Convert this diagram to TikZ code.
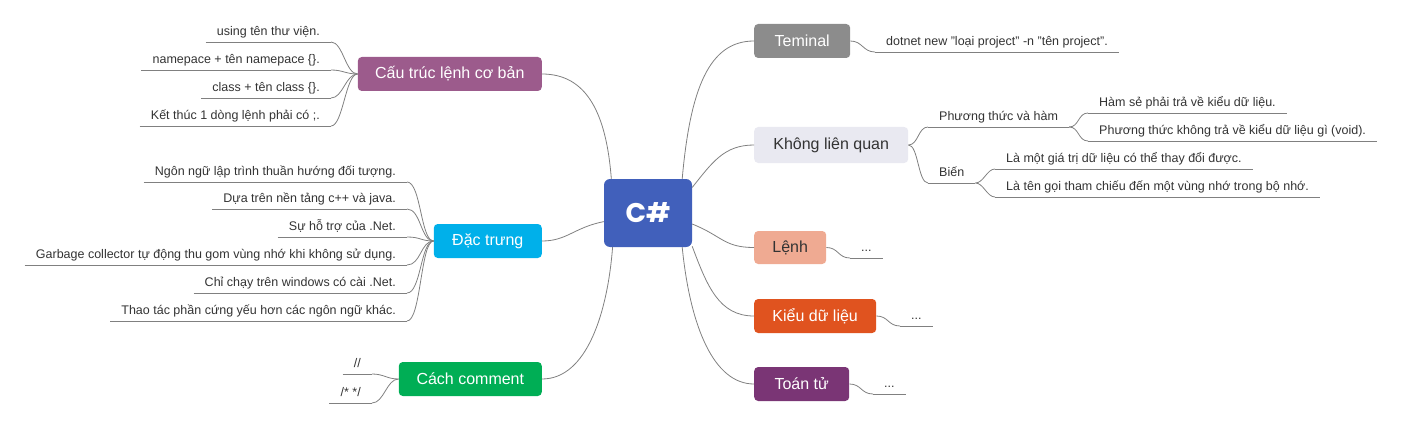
\documentclass[tikz,border=0pt]{standalone}
\usepackage{fontspec}
\setmainfont{Liberation Sans}
\newfontfamily\poppins{Poppins}
\definecolor{csblue}{HTML}{4160BB}
\definecolor{cauc}{HTML}{9C5B8C}
\definecolor{dacc}{HTML}{00B0EA}
\definecolor{cachc}{HTML}{00AE55}
\definecolor{temc}{HTML}{8C8C8C}
\definecolor{klqc}{HTML}{E9E9F1}
\definecolor{lenhc}{HTML}{EFAA92}
\definecolor{kieuc}{HTML}{E0531F}
\definecolor{toanc}{HTML}{7A3575}
\definecolor{linegray}{HTML}{808080}
\definecolor{leaftext}{HTML}{333333}
\begin{document}
\begin{tikzpicture}[x=1pt,y=-1pt,
  box/.style={rounded corners=4pt, minimum height=34pt, inner sep=0pt,
    font=\fontsize{16}{19}\selectfont, text=white},
  leaf/.style={inner xsep=11pt, inner ysep=0pt, text height=9pt, text depth=6pt,
    font=\fontsize{12.5}{15}\selectfont, text=leaftext},
  conn/.style={draw=linegray, line width=0.8pt},
]
\path[use as bounding box] (0,0) rectangle (1408,425);

% central node
\node[box, fill=csblue, minimum width=88pt, minimum height=68pt, rounded corners=6pt,
  font=\poppins\bfseries\fontsize{27}{30}\selectfont] (cs) at (648,213) {C\#};

% main branches
\node[box, fill=cauc, minimum width=184pt, anchor=east] (cau) at (542,74) {Cấu trúc lệnh cơ bản};
\node[box, fill=dacc, minimum width=108pt, anchor=east] (dac) at (542,241) {Đặc trưng};
\node[box, fill=cachc, minimum width=143pt, anchor=east] (cach) at (542,379) {Cách comment};
\node[box, fill=temc, minimum width=96pt, anchor=west] (tem) at (754,41) {Teminal};
\node[box, fill=klqc, text=leaftext, minimum width=154pt, minimum height=36pt, anchor=west] (klq) at (754,145) {Không liên quan};
\node[box, fill=lenhc, text=leaftext, minimum width=72pt, minimum height=33pt, anchor=west] (lenh) at (754,247.5) {Lệnh};
\node[box, fill=kieuc, minimum width=122pt, anchor=west] (kieu) at (754,316) {Kiểu dữ liệu};
\node[box, fill=toanc, minimum width=95pt, anchor=west] (toan) at (754,384) {Toán tử};

% leaves left
\node[leaf, anchor=south east] (l1) at (331,42) {using tên thư viện.};
\node[leaf, anchor=south east] (l2) at (331,70) {namepace + tên namepace \{\}.};
\node[leaf, anchor=south east] (l3) at (331,98) {class + tên class \{\}.};
\node[leaf, anchor=south east] (l4) at (331,126) {Kết thúc 1 dòng lệnh phải có ;.};

\node[leaf, anchor=south east] (d1) at (407,182) {Ngôn ngữ lập trình thuần hướng đối tượng.};
\node[leaf, anchor=south east] (d2) at (407,209) {Dựa trên nền tảng c++ và java.};
\node[leaf, anchor=south east] (d3) at (407,237) {Sự hỗ trợ của .Net.};
\node[leaf, anchor=south east] (d4) at (407,265) {Garbage collector tự động thu gom vùng nhớ khi không sử dụng.};
\node[leaf, anchor=south east] (d5) at (407,293) {Chỉ chạy trên windows có cài .Net.};
\node[leaf, anchor=south east] (d6) at (407,321) {Thao tác phần cứng yếu hơn các ngôn ngữ khác.};

\node[leaf, anchor=south east] (c1) at (372,374) {//};
\node[leaf, anchor=south east] (c2) at (372,403) {/* */};

% leaves right
\node[leaf, anchor=south west] (t1) at (875,52) {dotnet new "loại project" -n "tên project".};
\node[leaf, anchor=south west] (k1) at (928,127) {Phương thức và hàm};
\node[leaf, anchor=south west] (k2) at (928,183) {Biến};
\node[leaf, anchor=south west] (k11) at (1088,113) {Hàm sẻ phải trả về kiểu dữ liệu.};
\node[leaf, anchor=south west] (k12) at (1088,141) {Phương thức không trả về kiểu dữ liệu gì (void).};
\node[leaf, anchor=south west] (k21) at (995,169) {Là một giá trị dữ liệu có thể thay đổi được.};
\node[leaf, anchor=south west] (k22) at (995,197) {Là tên gọi tham chiếu đến một vùng nhớ trong bộ nhớ.};
\node[leaf, anchor=south west] (e1) at (850,258) {...};
\node[leaf, anchor=south west] (e2) at (900,326) {...};
\node[leaf, anchor=south west] (e3) at (873,394) {...};

% underlines
\foreach \n in {l1,l2,l3,l4,d1,d2,d3,d4,d5,d6,c1,c2,t1,k1,k2,k11,k12,k21,k22,e1,e2,e3}
  \draw[conn] (\n.south west) -- (\n.south east);

% central connectors
\draw[conn] (cs.137) .. controls +(-5,-65) and +(45,0) .. (cau.east);
\draw[conn] (cs.191) .. controls +(-30,6) and +(25,0) .. (dac.east);
\draw[conn] (cs.224) .. controls +(-5,65) and +(45,0) .. (cach.east);
\draw[conn] (cs.45) .. controls +(8,-90) and +(-45,0) .. (tem.west);
\draw[conn] (cs.30) .. controls +(20,-25) and +(-30,0) .. (klq.west);
\draw[conn] (cs.-14) .. controls +(30,12) and +(-30,0) .. (lenh.west);
\draw[conn] (cs.-37) .. controls +(15,40) and +(-35,0) .. (kieu.west);
\draw[conn] (cs.-45) .. controls +(8,80) and +(-40,0) .. (toan.west);

% branch to leaves
\foreach \n in {l1,l2,l3,l4}
  \draw[conn] (cau.west) .. controls +(-12,0) and +(12,0) .. (\n.south east);
\foreach \n in {d1,d2,d3,d4,d5,d6}
  \draw[conn] (dac.west) .. controls +(-13,0) and +(14,0) .. (\n.south east);
\foreach \n in {c1,c2}
  \draw[conn] (cach.west) .. controls +(-12,0) and +(12,0) .. (\n.south east);
\draw[conn] (tem.east) .. controls +(12,0) and +(-12,0) .. (t1.south west);
\foreach \n in {k1,k2}
  \draw[conn] (klq.east) .. controls +(10,0) and +(-10,0) .. (\n.south west);
\foreach \n in {k11,k12}
  \draw[conn] (k1.south east) .. controls +(10,0) and +(-10,0) .. (\n.south west);
\foreach \n in {k21,k22}
  \draw[conn] (k2.south east) .. controls +(8,0) and +(-8,0) .. (\n.south west);
\draw[conn] (lenh.east) .. controls +(12,0) and +(-12,0) .. (e1.south west);
\draw[conn] (kieu.east) .. controls +(12,0) and +(-12,0) .. (e2.south west);
\draw[conn] (toan.east) .. controls +(12,0) and +(-12,0) .. (e3.south west);
\end{tikzpicture}
\end{document}
